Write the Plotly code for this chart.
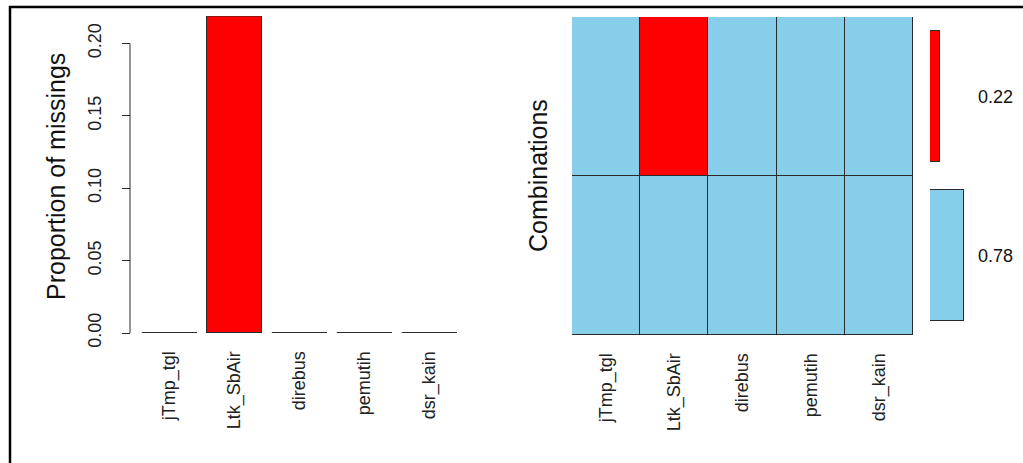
import plotly.graph_objects as go

# ---- data ----
variables = ["jTmp_tgl", "Ltk_SbAir", "direbus", "pemutih", "dsr_kain"]
prop_missing = [0.0, 0.219, 0.0, 0.0, 0.0]
# combination patterns (1 = missing), bottom row first
comb_patterns = [
    [0, 0, 0, 0, 0],
    [0, 1, 0, 0, 0],
]
comb_props = [0.78, 0.22]
y_ticks = [0.00, 0.05, 0.10, 0.15, 0.20]

# ---- styling ----
W, H = 1023, 463
MISS = "#FF0000"
OBS = "#87CEEB"
EDGE = "#2a2a2a"
FONT = "Liberation Sans, Arial, sans-serif"


def fx(p):
    return p / W


def fy(p):
    return 1 - p / H


fig = go.Figure()

# left panel: proportion of missings
xpos = list(range(len(variables)))
fig.add_trace(go.Bar(
    x=xpos, y=prop_missing, width=0.846,
    marker=dict(color=MISS, line=dict(color=EDGE, width=1)),
    xaxis="x", yaxis="y", showlegend=False, hoverinfo="skip"))
# zero-height bars show as flat lines (as in R barplot)
lx, ly = [], []
for i, v in zip(xpos, prop_missing):
    lx += [i - 0.423, i + 0.423, None]
    ly += [v, v, None]
fig.add_trace(go.Scatter(
    x=lx, y=ly, mode="lines", line=dict(color=EDGE, width=1),
    xaxis="x", yaxis="y", showlegend=False, hoverinfo="skip"))

# right panel: combination grid
for r, pattern in enumerate(comb_patterns):
    fig.add_trace(go.Bar(
        x=variables, y=[1] * len(variables),
        marker=dict(color=[MISS if m else OBS for m in pattern],
                    line=dict(color=EDGE, width=1)),
        xaxis="x2", yaxis="y2", showlegend=False, hoverinfo="skip"))

# frequency bars
row_centers = [r + 0.5 for r in range(len(comb_props))]
fig.add_trace(go.Bar(
    x=comb_props, y=row_centers, orientation="h", width=0.83,
    marker=dict(color=[MISS if any(p) else OBS for p in comb_patterns],
                line=dict(color=EDGE, width=1)),
    xaxis="x3", yaxis="y2", showlegend=False, hoverinfo="skip"))

annotations = []
for yc, v in zip(row_centers, comb_props):
    annotations.append(dict(
        x=fx(976), xref="paper", xanchor="left",
        y=yc, yref="y2", yanchor="middle",
        text=f"{v:.2f}", showarrow=False,
        font=dict(size=18, color="#111", family=FONT)))

annotations.append(dict(
    x=fx(40), xref="paper", y=fy(177), yref="paper",
    text="Proportion of missings", textangle=-90, showarrow=False,
    font=dict(size=25, color="#111", family=FONT)))
annotations.append(dict(
    x=fx(538), xref="paper", y=fy(176), yref="paper",
    text="Combinations", textangle=-90, showarrow=False,
    font=dict(size=25, color="#111", family=FONT)))

shapes = [
    # y axis line of left panel (spans only first..last tick as in R)
    dict(type="line", xref="paper", yref="y",
         x0=fx(130), x1=fx(130), y0=y_ticks[0], y1=y_ticks[-1],
         line=dict(color=EDGE, width=1)),
    # outer frame (left + top)
    dict(type="path", xref="paper", yref="paper",
         path=f"M {fx(10)},0 L {fx(10)},{fy(7)} L 1,{fy(7)}",
         line=dict(color="#000", width=2.5)),
]

tickfont = dict(size=18, color="#222", family=FONT)

fig.update_layout(
    width=W, height=H, autosize=False,
    margin=dict(l=0, r=0, t=0, b=0, autoexpand=False),
    paper_bgcolor="white", plot_bgcolor="white",
    barmode="stack", bargap=0,
    font=dict(family=FONT),
    xaxis=dict(domain=[fx(130), fx(468)], range=[-0.6, 4.6],
               tickvals=xpos, ticktext=variables, tickangle=-90,
               tickfont=tickfont, showgrid=False, zeroline=False,
               showline=False, ticks="outside", ticklen=0,
               ticklabelstandoff=10, anchor="y", automargin=False),
    yaxis=dict(domain=[fy(333), fy(16)], range=[0, max(prop_missing)],
               tickvals=y_ticks, ticktext=[f"{t:.2f}" for t in y_ticks],
               tickangle=-90, tickfont=tickfont, ticks="outside",
               ticklen=8, tickcolor=EDGE, showgrid=False, zeroline=False,
               showline=False, anchor="free", position=fx(130),
               ticklabelstandoff=14, automargin=False),
    xaxis2=dict(domain=[fx(572), fx(913)], range=[-0.5, 4.5],
                type="category", tickangle=-90, tickfont=tickfont,
                showgrid=False, zeroline=False, showline=False,
                ticks="outside", ticklen=0, ticklabelstandoff=10,
                anchor="y2", automargin=False),
    yaxis2=dict(domain=[fy(335), fy(17)], range=[0, 2], showgrid=False,
                zeroline=False, showline=False, showticklabels=False,
                ticks="", anchor="x2", automargin=False),
    xaxis3=dict(domain=[fx(930), 1.0], range=[0, 93 / 44], showgrid=False,
                zeroline=False, showline=False, showticklabels=False,
                ticks="", anchor="y2", automargin=False),
    annotations=annotations,
    shapes=shapes,
)

fig.write_html("out.html")
